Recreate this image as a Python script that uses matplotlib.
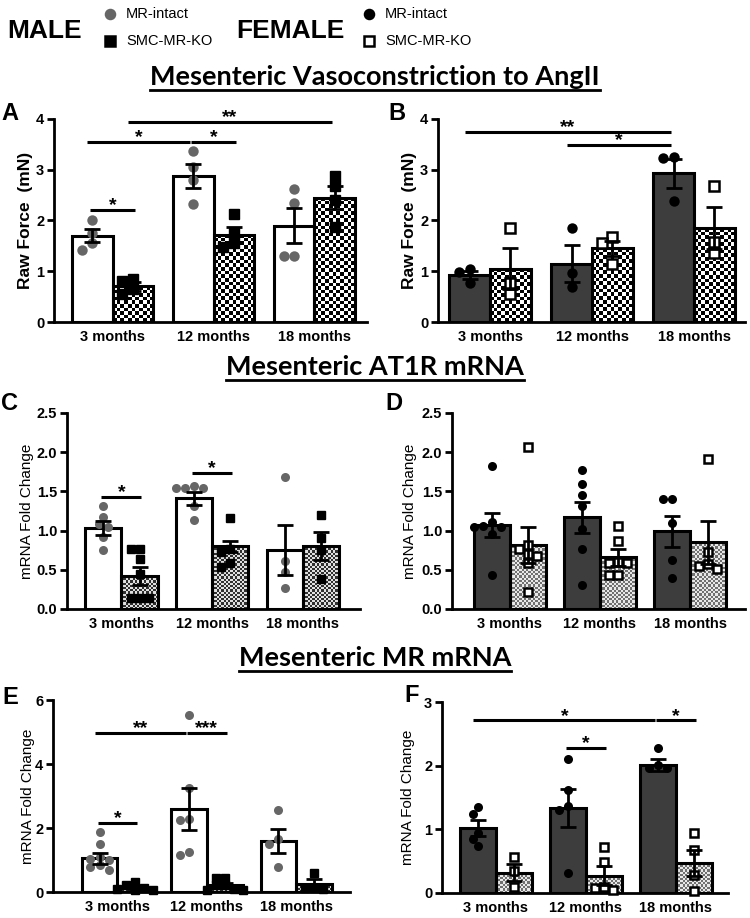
import matplotlib
matplotlib.use("Agg")
import matplotlib.pyplot as plt
import numpy as np
from matplotlib.colors import ListedColormap
from matplotlib.lines import Line2D

W, H = 750, 918
groups = ["3 months", "12 months", "18 months"]

# ---- A: male raw force to AngII
a_wt_pts = [[2.0, 1.75, 1.56, 1.42], [3.37, 3.06, 2.8, 2.32], [2.62, 2.35, 1.3, 1.3]]
a_ko_pts = [[0.84, 0.8, 0.65, 0.55], [2.13, 1.75, 1.55, 1.48], [2.87, 2.67, 2.4, 1.88]]
a_wt_mean = [1.7, 2.88, 1.9]
a_wt_sem = [0.13, 0.23, 0.35]
a_ko_mean = [0.7, 1.72, 2.45]
a_ko_sem = [0.08, 0.15, 0.22]
a_sig = [(0, 1, 2.21, "*"), (0, 2, 3.54, "*"), (2, 3, 3.54, "*"), (1, 5, 3.95, "**")]

# ---- B: female raw force to AngII
b_wt_pts = [[1.05, 0.99, 0.76], [1.86, 0.96, 0.69], [3.26, 3.24, 2.39]]
b_ko_pts = [[1.86, 0.76, 0.56], [1.68, 1.55, 1.15], [2.68, 1.58, 1.35]]
b_wt_mean = [0.92, 1.15, 2.93]
b_wt_sem = [0.08, 0.36, 0.29]
b_ko_mean = [1.05, 1.45, 1.85]
b_ko_sem = [0.4, 0.15, 0.42]
b_sig = [(0, 4, 3.74, "**"), (2, 4, 3.48, "*")]

# ---- C: male AT1R mRNA
c_wt_pts = [[1.32, 1.17, 1.08, 1.05, 0.92, 0.75],
            [1.57, 1.54, 1.54, 1.54, 1.31, 1.13],
            [1.69, 0.61, 0.47, 0.27]]
c_ko_pts = [[0.76, 0.76, 0.64, 0.45, 0.14, 0.14, 0.14],
            [1.16, 0.76, 0.73, 0.59, 0.53],
            [1.2, 0.9, 0.75, 0.38]]
c_wt_mean = [1.03, 1.41, 0.75]
c_wt_sem = [0.09, 0.08, 0.32]
c_ko_mean = [0.42, 0.8, 0.8]
c_ko_sem = [0.11, 0.07, 0.18]
c_sig = [(0, 1, 1.43, "*"), (2, 3, 1.74, "*")]

# ---- D: female AT1R mRNA
d_wt_pts = [[1.82, 1.11, 1.06, 1.05, 1.05, 0.96, 0.44],
            [1.77, 1.6, 1.45, 1.31, 1.02, 0.76, 0.3],
            [1.4, 1.4, 1.1, 0.62, 0.4]]
d_ko_pts = [[2.06, 0.81, 0.76, 0.7, 0.67, 0.59, 0.22],
            [1.06, 0.87, 0.6, 0.59, 0.59, 0.43, 0.43],
            [1.91, 0.73, 0.58, 0.55, 0.51]]
d_wt_mean = [1.07, 1.17, 0.99]
d_wt_sem = [0.15, 0.2, 0.2]
d_ko_mean = [0.82, 0.66, 0.85]
d_ko_sem = [0.23, 0.11, 0.27]
d_sig = []

# ---- E: male MR mRNA
e_wt_pts = [[1.86, 1.51, 1.1, 1.02, 0.99, 0.84, 0.78, 0.68],
            [5.53, 3.26, 2.27, 2.24, 1.25, 1.17],
            [2.56, 1.67, 1.49, 0.78]]
e_ko_pts = [[0.3, 0.22, 0.12, 0.1, 0.06, 0.05],
            [0.45, 0.45, 0.21, 0.21, 0.1, 0.05, 0.05],
            [0.6, 0.14, 0.14, 0.1]]
e_wt_mean = [1.06, 2.6, 1.6]
e_wt_sem = [0.17, 0.66, 0.37]
e_ko_mean = [0.13, 0.22, 0.26]
e_ko_sem = [0.04, 0.06, 0.14]
e_sig = [(0, 2, 4.98, "**"), (2, 3, 4.98, "***"), (0, 1, 2.16, "*")]

# ---- F: female MR mRNA
f_wt_pts = [[1.35, 1.24, 0.95, 0.85, 0.74],
            [2.11, 1.61, 1.37, 1.3, 0.31],
            [2.27, 2.01, 1.96, 1.96]]
f_ko_pts = [[0.57, 0.35, 0.1], [0.73, 0.48, 0.1, 0.08, 0.05], [0.94, 0.68, 0.29, 0.03]]
f_wt_mean = [1.02, 1.33, 2.01]
f_wt_sem = [0.12, 0.3, 0.09]
f_ko_mean = [0.32, 0.27, 0.47]
f_ko_sem = [0.13, 0.15, 0.2]
f_sig = [(0, 4, 2.71, "*"), (4, 5, 2.71, "*"), (2, 3, 2.28, "*")]

BOLD = ["Liberation Sans", "DejaVu Sans"]
TITLE = ["Lato", "DejaVu Sans"]

fig = plt.figure(figsize=(W / 100, H / 100), dpi=100)


def px_axes(x0, y0, x1, y1):
    return fig.add_axes([x0 / W, 1 - y1 / H, (x1 - x0) / W, (y1 - y0) / H])


def swarm_x(ax, xc, vals, diam):
    # simple beeswarm in pixel space, like GraphPad scatter
    tr = ax.transData
    placed = []
    out = []
    for v in vals:
        px, py = tr.transform((xc, v))
        for k in [0, -1, 1, -2, 2, -3, 3, -4, 4]:
            cx = px + k * diam * 0.5
            if all((cx - qx) ** 2 + (py - qy) ** 2 >= (diam * 0.85) ** 2 for qx, qy in placed):
                break
        placed.append((cx, py))
        out.append(tr.inverted().transform((cx, py))[0])
    return out


def checker(ax, bar, cell, c1, c2):
    x0, y0 = ax.transData.transform((bar.get_x(), 0))
    x1, y1 = ax.transData.transform((bar.get_x() + bar.get_width(), bar.get_height()))
    nx = max(1, int(round((x1 - x0) / cell)))
    ny = max(1, int(round((y1 - y0) / cell)))
    grid = (np.add.outer(np.arange(ny), np.arange(nx)) % 2)
    im = ax.imshow(grid, cmap=ListedColormap([c1, c2]), interpolation="nearest",
                   extent=(bar.get_x(), bar.get_x() + bar.get_width(), 0, bar.get_height()),
                   aspect="auto", zorder=1.5, origin="lower")
    im.set_clip_path(bar)


def panel(ax, wt_pts, ko_pts, wt_mean, wt_sem, ko_mean, ko_sem, sig, ylim, yticks,
          yfmt, xlim, female, cell, chk, ms, ylabel, lab_bold, lab_size, lab_x):
    x = np.arange(len(groups))
    w = 0.4
    ax.set_xlim(*xlim)
    ax.set_ylim(*ylim)
    wt_face = "#3d3d3d" if female else "white"
    ax.bar(x - w / 2, wt_mean, w, color=wt_face, edgecolor="black", linewidth=2.2, zorder=2)
    ko_bars = ax.bar(x + w / 2, ko_mean, w, color="white", edgecolor="none",
                     linewidth=0, zorder=1)
    ax.bar(x + w / 2, ko_mean, w, color="none", edgecolor="black", linewidth=2.2, zorder=2)
    for b in ko_bars:
        checker(ax, b, cell, chk[0], chk[1])
    ax.set_xlim(*xlim)
    ax.set_ylim(*ylim)

    diam = ms * 100 / 72
    for g in range(len(groups)):
        xs = swarm_x(ax, x[g] - w / 2, wt_pts[g], diam)
        ax.plot(xs, wt_pts[g], "o", ms=ms, color="black" if female else "#666666",
                mec="none", zorder=3, clip_on=False)
        xs = swarm_x(ax, x[g] + w / 2, ko_pts[g], diam)
        if female:
            ax.plot(xs, ko_pts[g], "s", ms=ms * 0.95, mfc="white", mec="black",
                    mew=1.8, zorder=3, clip_on=False)
        else:
            ax.plot(xs, ko_pts[g], "s", ms=ms * 0.95, color="black", zorder=3, clip_on=False)

    ax.errorbar(x - w / 2, wt_mean, yerr=wt_sem, fmt="none", ecolor="black",
                elinewidth=2, capsize=6, capthick=2, zorder=4)
    ax.errorbar(x + w / 2, ko_mean, yerr=ko_sem, fmt="none", ecolor="black",
                elinewidth=2, capsize=6, capthick=2, zorder=4)

    pos = np.column_stack([x - w / 2, x + w / 2]).ravel()
    for i, j, y, stars in sig:
        x0, x1 = pos[i] - 0.05, pos[j] - 0.03
        if i % 2 == 0 and j == i + 1:
            x0, x1 = pos[i] - 0.02, pos[j] + 0.02
        ax.plot([x0, x1], [y, y], color="black", lw=2.2, solid_capstyle="butt",
                zorder=5, clip_on=False)
        ax.annotate(stars, ((x0 + x1) / 2, y), xytext=(0, -3), textcoords="offset points",
                    ha="center", va="bottom", fontsize=14, fontweight="bold", family=BOLD)

    for s in ["top", "right"]:
        ax.spines[s].set_visible(False)
    for s in ["left", "bottom"]:
        ax.spines[s].set_linewidth(2)
    ax.set_yticks(yticks)
    ax.set_yticklabels([yfmt.format(t) for t in yticks], fontsize=10.5,
                       fontweight="bold", family=BOLD)
    ax.set_xticks(x)
    ax.set_xticklabels(groups, fontsize=10.5, fontweight="bold", family=BOLD)
    ax.tick_params(axis="y", width=2, length=5, pad=2)
    ax.tick_params(axis="x", length=0, pad=6)
    ax.set_ylabel(ylabel, fontsize=lab_size, fontweight="bold" if lab_bold else "normal",
                  family=BOLD)
    ax.yaxis.set_label_coords(lab_x, 0.5)


axA = px_axes(54, 119, 367, 322)
panel(axA, a_wt_pts, a_ko_pts, a_wt_mean, a_wt_sem, a_ko_mean, a_ko_sem, a_sig,
      (0, 4), [0, 1, 2, 3, 4], "{:g}", (-0.58, 2.52), False, 3.6, ("black", "white"),
      7.5, "Raw Force  (mN)", True, 12.5, -0.066)
axB = px_axes(438, 119, 745, 322)
panel(axB, b_wt_pts, b_ko_pts, b_wt_mean, b_wt_sem, b_ko_mean, b_ko_sem, b_sig,
      (0, 4), [0, 1, 2, 3, 4], "{:g}", (-0.51, 2.5), True, 3.6, ("black", "white"),
      7.5, "Raw Force  (mN)", True, 12.5, -0.068)
axC = px_axes(67, 413, 360, 609)
panel(axC, c_wt_pts, c_ko_pts, c_wt_mean, c_wt_sem, c_ko_mean, c_ko_sem, c_sig,
      (0, 2.5), [0, 0.5, 1, 1.5, 2, 2.5], "{:.1f}", (-0.6, 2.63), False, 2.2,
      ("#303030", "#e0e0e0"), 6.5, "mRNA Fold Change", False, 11, -0.112)
axD = px_axes(452, 413, 745, 609)
panel(axD, d_wt_pts, d_ko_pts, d_wt_mean, d_wt_sem, d_ko_mean, d_ko_sem, d_sig,
      (0, 2.5), [0, 0.5, 1, 1.5, 2, 2.5], "{:.1f}", (-0.64, 2.61), True, 2.2,
      ("#707070", "#e8e8e8"), 6.5, "mRNA Fold Change", False, 11, -0.118)
axE = px_axes(53, 700, 350, 892)
panel(axE, e_wt_pts, e_ko_pts, e_wt_mean, e_wt_sem, e_ko_mean, e_ko_sem, e_sig,
      (0, 6), [0, 2, 4, 6], "{:g}", (-0.72, 2.6), False, 2.2,
      ("#303030", "#e0e0e0"), 6.5, "mRNA Fold Change", False, 11, -0.06)
axF = px_axes(442, 702, 728, 893)
panel(axF, f_wt_pts, f_ko_pts, f_wt_mean, f_wt_sem, f_ko_mean, f_ko_sem, f_sig,
      (0, 3), [0, 1, 2, 3], "{:g}", (-0.6, 2.58), True, 2.2,
      ("#707070", "#e8e8e8"), 6.5, "mRNA Fold Change", False, 11, -0.095)

# panel letters
for lab, px, py in [("A", 10, 113), ("B", 397, 113), ("C", 9, 403), ("D", 394, 403),
                    ("E", 10, 698), ("F", 412, 696)]:
    fig.text(px / W, 1 - py / H, lab, fontsize=17, fontweight="bold", family=BOLD,
             ha="center", va="center")

# section titles, underlined
fig.canvas.draw()
renderer = fig.canvas.get_renderer()
for txt, py in [("Mesenteric Vasoconstriction to AngII", 77),
                ("Mesenteric AT1R mRNA", 367),
                ("Mesenteric MR mRNA", 658)]:
    t = fig.text(0.5, 1 - py / H, txt, fontsize=19.5, fontweight="bold", family=TITLE,
                 ha="center", va="center")
    bb = t.get_window_extent(renderer)
    yl = bb.y0 - 1
    fig.add_artist(Line2D([bb.x0 / W, bb.x1 / W], [yl / H, yl / H], color="black",
                          lw=2, transform=fig.transFigure))

# sex headers + legend
fig.text(45 / W, 1 - 31 / H, "MALE", fontsize=19, fontweight="bold", family=BOLD,
         ha="center", va="center")
fig.text(290 / W, 1 - 31 / H, "FEMALE", fontsize=19, fontweight="bold", family=BOLD,
         ha="center", va="center")
leg = [(110, 14, "o", "#666666", "#666666", "MR-intact"),
       (110, 41, "s", "black", "black", "SMC-MR-KO"),
       (369, 14, "o", "black", "black", "MR-intact"),
       (369, 41, "s", "white", "black", "SMC-MR-KO")]
for px, py, m, fc, ec, lab in leg:
    fig.add_artist(Line2D([px / W], [1 - py / H], marker=m, ms=6.5, mfc=fc, mec=ec,
                          mew=1.8, ls="none", transform=fig.transFigure))
    fig.text((px + 16) / W, 1 - py / H, lab, fontsize=10.5, family=BOLD,
             ha="left", va="center")

fig.savefig("out.png", dpi=100)
